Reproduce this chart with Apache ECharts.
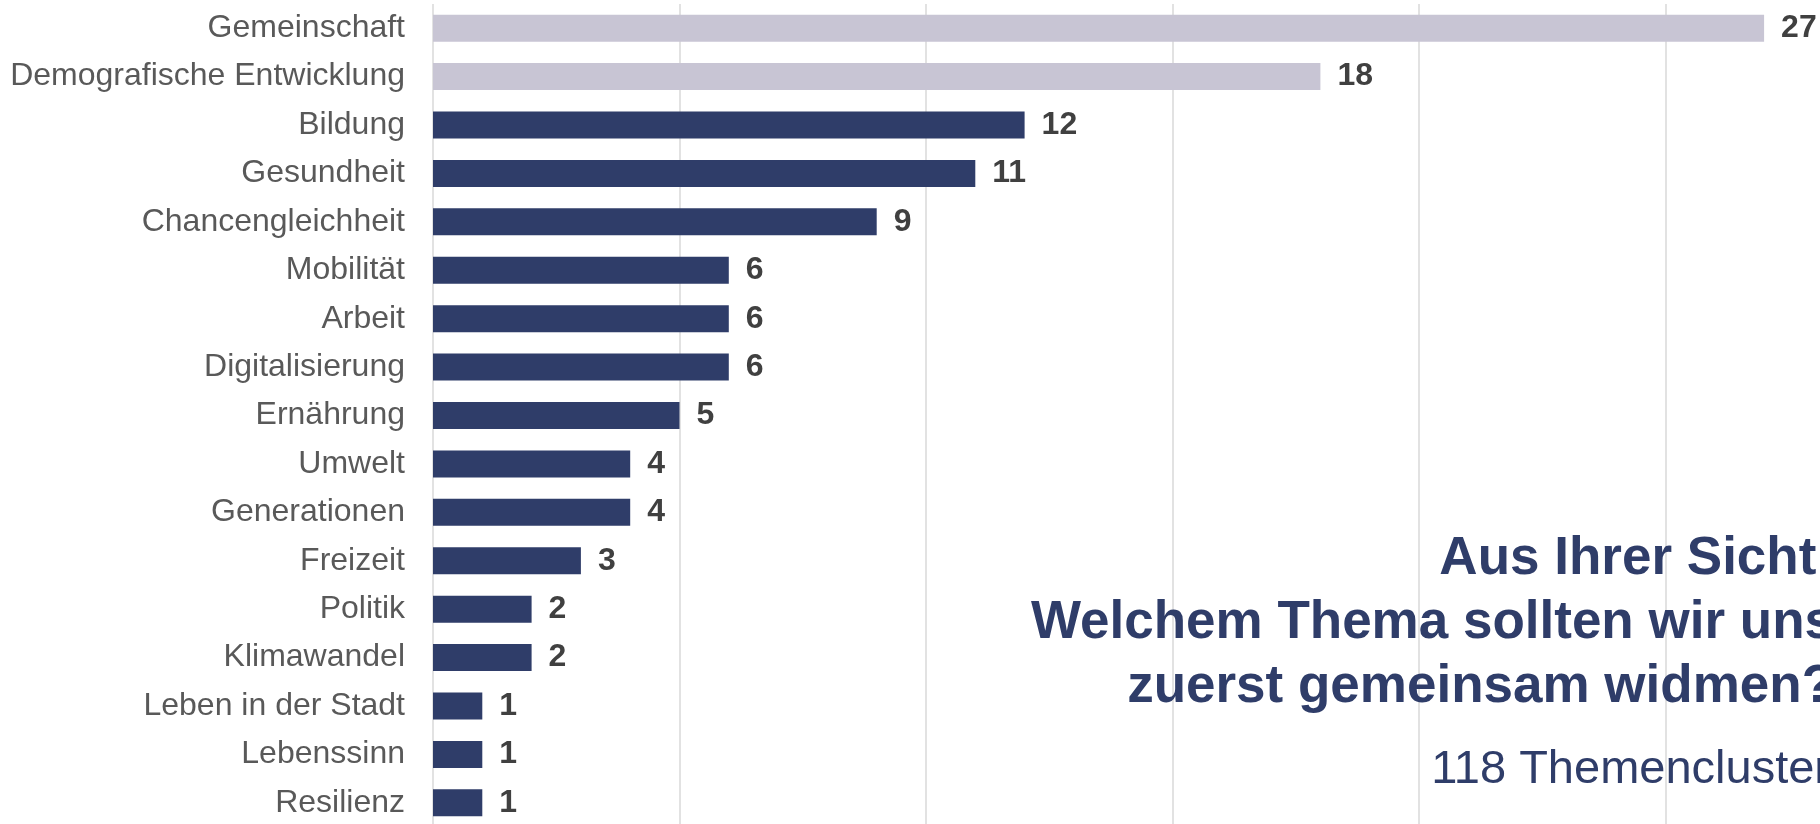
<!DOCTYPE html>
<html>
<head>
<meta charset="utf-8">
<script src="https://cdn.jsdelivr.net/npm/echarts@6/dist/echarts.min.js"></script>
<style>
  html, body { margin: 0; padding: 0; background: #fff; }
  #chart { width: 1820px; height: 824px; }
</style>
</head>
<body>
<div id="chart"></div>
<script>
// Themen und Anzahl der Nennungen
var themen = ['Gemeinschaft', 'Demografische Entwicklung', 'Bildung', 'Gesundheit',
  'Chancengleichheit', 'Mobilität', 'Arbeit', 'Digitalisierung', 'Ernährung', 'Umwelt',
  'Generationen', 'Freizeit', 'Politik', 'Klimawandel', 'Leben in der Stadt',
  'Lebenssinn', 'Resilienz'];
var anzahl = [27, 18, 12, 11, 9, 6, 6, 6, 5, 4, 4, 3, 2, 2, 1, 1, 1];
// hell dargestellte Themen
var hellThemen = ['Gemeinschaft', 'Demografische Entwicklung'];

var titelZeilen = ['Aus Ihrer Sicht:', 'Welchem Thema sollten wir uns', 'zuerst gemeinsam widmen?'];
var untertitel = '118 Themencluster';

var dunkel = '#2f3d69';
var hell = '#c8c5d4';
var schrift = 'Liberation Sans, Arial, Helvetica, sans-serif';

var myChart = echarts.init(document.getElementById('chart'));

// Fragetext rechts unten (läuft über den Rand hinaus wie im Original)
var titelY = [559, 623, 687];
var graphics = [];
titelZeilen.forEach(function (zeile, i) {
  graphics.push({
    type: 'text',
    x: 1834,
    y: titelY[i],
    style: {
      text: zeile,
      fill: dunkel,
      font: 'bold 53px ' + schrift,
      align: 'right',
      verticalAlign: 'middle'
    },
    z: 10
  });
});
graphics.push({
  type: 'text',
  x: 1830,
  y: 770,
  style: {
    text: untertitel,
    fill: dunkel,
    font: '47px ' + schrift,
    align: 'right',
    verticalAlign: 'middle'
  },
  z: 10
});

myChart.setOption({
  animation: false,
  grid: {
    left: 433,
    width: 1479,   // Achse geht bis 30, rechts abgeschnitten
    top: 4,
    bottom: -3,
    containLabel: false,
    outerBoundsMode: 'none'
  },
  xAxis: {
    type: 'value',
    min: 0,
    max: 30,
    interval: 5,
    axisLine: { show: false },
    axisTick: { show: false },
    axisLabel: { show: false },
    splitLine: { show: true, lineStyle: { color: '#d9d9d9', width: 1.5 } }
  },
  yAxis: {
    type: 'category',
    inverse: true,
    data: themen,
    axisLine: { show: false },
    axisTick: { show: false },
    axisLabel: {
      margin: 28,
      color: '#595959',
      fontSize: 32,
      fontFamily: schrift
    }
  },
  series: [{
    type: 'bar',
    data: anzahl,
    barWidth: 27,
    itemStyle: {
      color: function (p) {
        return hellThemen.indexOf(p.name) >= 0 ? hell : dunkel;
      }
    },
    label: {
      show: true,
      position: 'right',
      distance: 17,
      color: '#404040',
      fontSize: 32,
      fontWeight: 'bold',
      fontFamily: schrift
    }
  }],
  graphic: graphics
});
</script>
</body>
</html>
